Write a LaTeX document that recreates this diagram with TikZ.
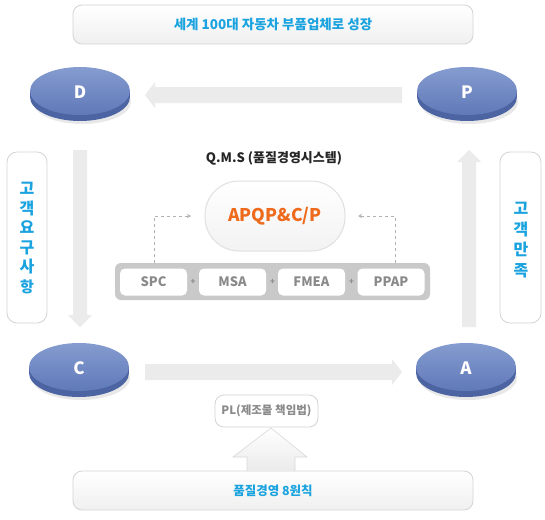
\documentclass[tikz,border=0pt]{standalone}
\usepackage{fontspec}
\setmainfont{Noto Sans CJK KR}
\usetikzlibrary{arrows.meta,shadows}
\definecolor{skyc}{HTML}{1AA3DF}
\definecolor{orangec}{HTML}{EE6A1C}
\definecolor{grayt}{HTML}{8A8A8A}
\definecolor{arrowg}{HTML}{EBEBEB}
\definecolor{boxline}{HTML}{D4D4D4}
\definecolor{barg}{HTML}{C9C9C9}
\definecolor{disctop}{HTML}{859CD0}
\definecolor{discbot}{HTML}{6079B8}
\definecolor{discrim}{HTML}{4C64A2}
\tikzset{
  wbox/.style={draw=boxline, line width=0.8pt, rounded corners=9pt, top color=white, bottom color=black!6},
  sidebox/.style={draw=boxline, line width=0.8pt, rounded corners=10pt, fill=white},
  inbox/.style={draw=none, rounded corners=5pt, fill=white},
  skytext/.style={text=skyc, font=\bfseries},
  disclabel/.style={text=white, font=\bfseries\fontsize{17}{17}\selectfont},
  modtext/.style={text=grayt, font=\bfseries\fontsize{13}{13}\selectfont},
  dashconn/.style={draw=black!30, dashed, line width=0.5pt, -{Stealth[length=4pt,width=4pt]}},
  fatarrow/.style={fill=arrowg, draw=none},
}
\newcommand{\mydisc}[4]{%
  \fill[black!25, opacity=0.35] (#2+2,#3+11) ellipse [x radius=49, y radius=22];
  \fill[discrim] (#2,#3+6) ellipse [x radius=50, y radius=24];
  \fill[discrim] (#2-50,#3) rectangle (#2+50,#3+6);
  \shade[top color=disctop, bottom color=discbot] (#2,#3) ellipse [x radius=50, y radius=24];
  \node[disclabel] (#1) at (#2,#3+1) {#4};
}
\begin{document}
\begin{tikzpicture}[x=1pt,y=-1pt]
\useasboundingbox[fill=white] (0,0) rectangle (545,519);

% top box
\draw[wbox] (73,5) rectangle (473,44);
\node[skytext, font=\bfseries\fontsize{13.5}{13.5}\selectfont] (goal) at (273,24.5) {세계 100대 자동차 부품업체로 성장};

% bottom box
\draw[wbox] (73,471) rectangle (473,510);
\node[skytext, font=\bfseries\fontsize{12.5}{12.5}\selectfont] (eight) at (273,491) {품질경영 8원칙};

% big gray arrows
\fill[fatarrow] (402,87) -- (155,87) -- (155,82) -- (145,95) -- (155,108) -- (155,103) -- (402,103) -- cycle;
\fill[fatarrow] (145,364) -- (392,364) -- (392,359) -- (402,372) -- (392,385) -- (392,380) -- (145,380) -- cycle;
\fill[fatarrow] (73,150) -- (73,315) -- (68,315) -- (80,327) -- (92,315) -- (87,315) -- (87,150) -- cycle;
\fill[fatarrow] (462,327) -- (462,162) -- (457,162) -- (469,150) -- (481,162) -- (476,162) -- (476,327) -- cycle;

% discs
\mydisc{D}{80}{91}{D}
\mydisc{P}{467}{91}{P}
\mydisc{C}{79}{367}{C}
\mydisc{A}{466}{367}{A}

% side boxes
\draw[sidebox] (7,152) rectangle (47,323);
\node[skytext, font=\bfseries\fontsize{16}{19.5}\selectfont, align=center] (req) at (27,238) {고\\객\\요\\구\\사\\{\fontsize{15}{15}\selectfont 항}};
\draw[sidebox] (500,152) rectangle (541,323);
\node[skytext, font=\bfseries\fontsize{16}{20.5}\selectfont, align=center] (sat) at (521,240) {고\\객\\만\\족};

% QMS
\node[font=\bfseries\fontsize{13}{13}\selectfont, text=black!85] (qms) at (274,158) {Q.M.S (품질경영시스템)};
\node[draw=black!12, line width=1pt, rounded corners=34pt, minimum width=140pt, minimum height=70pt, top color=white, bottom color=black!5, inner sep=0pt,
  text=orangec, font=\bfseries\fontsize{17.5}{17.5}\selectfont] (apqp) at (275,216) {APQP\&C/P};

% gray bar
\fill[barg, rounded corners=6pt] (115,263) rectangle (430,300);
\node[inbox, minimum width=67pt, minimum height=27pt, modtext] (spc) at (153.5,282) {SPC};
\node[inbox, minimum width=67pt, minimum height=27pt, modtext] (msa) at (232.5,282) {MSA};
\node[inbox, minimum width=67pt, minimum height=27pt, modtext] (fmea) at (311.5,282) {FMEA};
\node[inbox, minimum width=67pt, minimum height=27pt, modtext] (ppap) at (391,282) {PPAP};
\node[text=black!45, font=\bfseries\fontsize{8}{8}\selectfont, inner sep=0pt] (p1) at (193,282) {+};
\node[text=black!45, font=\bfseries\fontsize{8}{8}\selectfont, inner sep=0pt] (p2) at (272.5,282) {+};
\node[text=black!45, font=\bfseries\fontsize{8}{8}\selectfont, inner sep=0pt] (p3) at (351.5,282) {+};

% dashed connectors
\coordinate (la) at (154,263);
\coordinate (ra) at (395,263);
\draw[dashconn] (la) -- (154,216) -- (191,216);
\draw[dashconn] (ra) -- (395,216) -- (358,216);

% PL box and arrow
\node[draw=boxline, line width=0.8pt, rounded corners=9pt, fill=white, minimum width=103pt, minimum height=32pt,
  text=grayt, font=\bfseries\fontsize{11.5}{11.5}\selectfont] (pl) at (266.5,411) {PL(제조물 책임법)};
\shade[top color=white, bottom color=black!8, draw=black!15, line width=0.6pt]
  (247,471) -- (247,457) -- (233,457) -- (271,428) -- (307,457) -- (295,457) -- (295,471);
\end{tikzpicture}
\end{document}
